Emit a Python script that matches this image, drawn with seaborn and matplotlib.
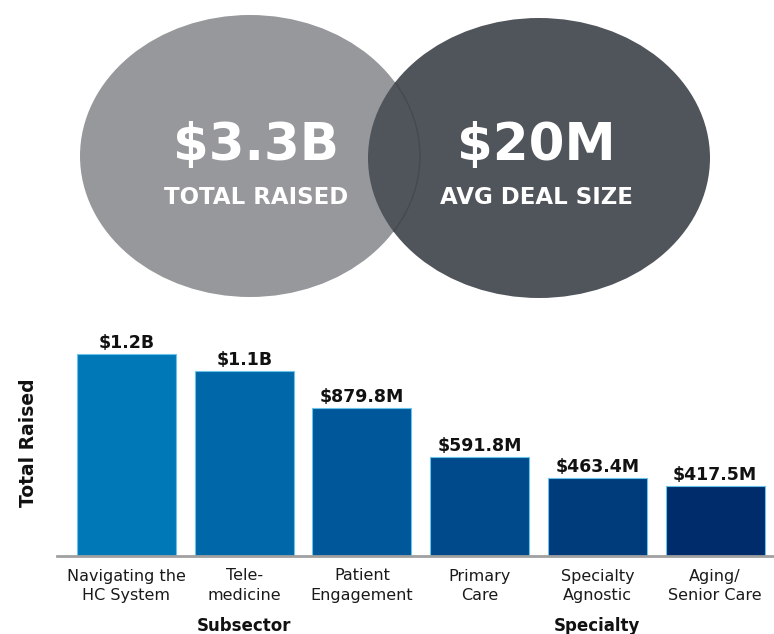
import matplotlib
matplotlib.use("Agg")
import matplotlib.pyplot as plt
from matplotlib.patches import Ellipse, Arc
import seaborn as sns
import pandas as pd

# Summary figures shown in the two circles
headline_values = ["$3.3B", "$20M"]
headline_labels = ["TOTAL RAISED", "AVG DEAL SIZE"]

# Funding by category (millions of USD)
categories = ["Navigating the\nHC System", "Tele-\nmedicine", "Patient\nEngagement",
              "Primary\nCare", "Specialty\nAgnostic", "Aging/\nSenior Care"]
raised_m = [1200, 1100, 879.8, 591.8, 463.4, 417.5]
value_labels = ["$1.2B", "$1.1B", "$879.8M", "$591.8M", "$463.4M", "$417.5M"]
groups = ["Subsector", "Specialty"]
group_spans = [(0, 2), (3, 5)]

bar_colors = ["#0078B7", "#0067A8", "#00579A", "#004A8C", "#003B7B", "#002C6C"]

sns.set_theme(style="white")
plt.rcParams["font.family"] = ["DejaVu Sans"]

W, H = 774, 634
fig = plt.figure(figsize=(W / 100, H / 100), dpi=100)

# ---- top: two overlapping circles in pixel coordinates ----
top = fig.add_axes([0, 0, 1, 1])
top.set_xlim(0, W)
top.set_ylim(H, 0)
top.axis("off")
left_c = Ellipse((250, 156), 340, 282, facecolor="#96989C", edgecolor="none", zorder=1)
right_c = Ellipse((539, 158), 342, 280, facecolor="#50545B", edgecolor="none", zorder=2)
top.add_patch(left_c)
top.add_patch(right_c)
edge = Arc((250, 156), 340, 282, theta1=-60, theta2=60, color="#454950", lw=1.0, zorder=3)
top.add_patch(edge)
edge.set_clip_path(right_c)

for (cx, val, lab) in zip([256, 536], headline_values, headline_labels):
    top.text(cx, 146, val, ha="center", va="center", color="white",
             fontsize=37, fontweight="heavy", zorder=4)
    top.text(cx, 198, lab, ha="center", va="center", color="white",
             fontsize=16.5, fontweight="bold", zorder=4)

# ---- bottom: bar chart ----
ax = fig.add_axes([57 / W, (H - 556) / H, 1 - 57 / W, (556 - 330) / H])
df = pd.DataFrame({"category": categories, "raised": raised_m})
sns.barplot(data=df, x="category", y="raised", hue="category", palette=bar_colors,
            saturation=1, legend=False, width=0.84, edgecolor="#6CC3EA",
            linewidth=0.8, ax=ax)
ax.set_xlim(-0.59, 5.5)
ax.set_ylim(0, 1345)
ax.set_yticks([])
ax.set_xlabel("")
ax.set_ylabel("Total Raised", fontsize=13.5, fontweight="semibold", color="#111111", labelpad=14)
for side in ["top", "right", "left"]:
    ax.spines[side].set_visible(False)
ax.spines["bottom"].set_color("#A0A0A0")
ax.spines["bottom"].set_linewidth(2)
ax.tick_params(axis="x", length=0, pad=9, labelsize=11.5, labelcolor="#1A1A1A")
for lbl in ax.get_xticklabels():
    lbl.set_linespacing(1.35)

for i, (v, t) in enumerate(zip(raised_m, value_labels)):
    ax.text(i, v + 12, t, ha="center", va="bottom", fontsize=12.5,
            fontweight="heavy", color="#111111")

for name, (a, b) in zip(groups, group_spans):
    ax.text((a + b) / 2, -0.31, name, transform=ax.get_xaxis_transform(),
            ha="center", va="center", fontsize=12, fontweight="bold", color="#111111")

fig.savefig("out.png", dpi=100)
